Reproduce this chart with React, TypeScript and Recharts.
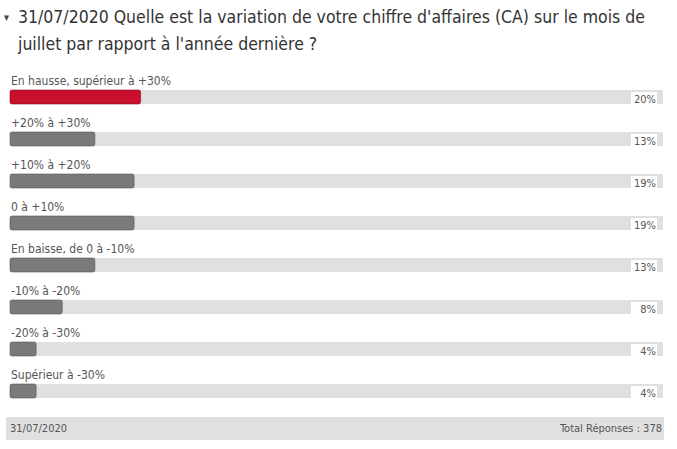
import { BarChart, Bar, XAxis, YAxis, Cell, LabelList } from 'recharts'

const categories = [
  'En hausse, supérieur à +30%',
  '+20% à +30%',
  '+10% à +20%',
  '0 à +10%',
  'En baisse, de 0 à -10%',
  '-10% à -20%',
  '-20% à -30%',
  'Supérieur à -30%',
]
const percents = [20, 13, 19, 19, 13, 8, 4, 4]

const TITLE = "31/07/2020 Quelle est la variation de votre chiffre d'affaires (CA) sur le mois de juillet par rapport à l'année dernière ?"
const FOOTER_DATE = '31/07/2020'
const FOOTER_TOTAL = 'Total Réponses : 378'

const FONT = '"DejaVu Sans Condensed", "Liberation Sans Narrow", "Roboto", sans-serif'

const data = categories.map((c, i) => ({ name: c, value: percents[i] }))

// nom de la réponse au-dessus de la barre
const NameLabel = (props: any) => {
  const { x, y, value } = props
  return (
    <text x={x + 1} y={y - 5} fontSize={12} fill="#555" fontFamily={FONT}>
      {value}
    </text>
  )
}

// pourcentage à droite, sur fond blanc
const PctLabel = (props: any) => {
  const { y, height, value } = props
  const right = 656
  return (
    <g>
      <rect x={right - 25} y={y + 2} width={26} height={height} fill="#fff" />
      <text x={right} y={y + height - 1} fontSize={11} fill="#555" textAnchor="end" fontFamily={FONT}>
        {value}%
      </text>
    </g>
  )
}

export default function App() {
  return (
    <div style={{ position: 'absolute', left: 0, top: 0, width: 677, height: 449, background: '#fff', fontFamily: FONT }}>
      <div style={{ position: 'absolute', left: 4, top: 4, width: 665, fontSize: 17.5, lineHeight: '27px', color: '#333' }}>
        <span style={{ position: 'absolute', left: 0, top: 0, fontSize: 11, color: '#444' }}>▾</span>
        <div style={{ paddingLeft: 14 }}>{TITLE}</div>
      </div>
      <div style={{ position: 'absolute', left: 0, top: 62 }}>
        <BarChart
          width={677}
          height={350}
          data={data}
          layout="vertical"
          margin={{ top: 14, right: 14, left: 10, bottom: 0 }}
          barSize={14}
        >
          <XAxis type="number" domain={[0, 100]} hide />
          <YAxis type="category" dataKey="name" hide />
          <Bar dataKey="value" background={{ fill: '#e0e0e0', stroke: 'none' }} isAnimationActive={false} radius={2}>
            {data.map((d, i) => (
              <Cell
                key={`cell-${i}`}
                fill={i === 0 ? '#c8102e' : '#7a7a7a'}
                stroke={i === 0 ? '#8a0a20' : '#555'}
                strokeWidth={0.6}
              />
            ))}
            <LabelList dataKey="name" content={NameLabel} />
            <LabelList dataKey="value" content={PctLabel} />
          </Bar>
        </BarChart>
      </div>
      <div
        style={{
          position: 'absolute',
          left: 6,
          top: 417,
          width: 658,
          height: 23,
          background: '#e0e0e0',
          fontSize: 11,
          color: '#555',
          display: 'flex',
          justifyContent: 'space-between',
          alignItems: 'center',
          padding: '0 2px 0 4px',
          boxSizing: 'border-box',
        }}
      >
        <span>{FOOTER_DATE}</span>
        <span>{FOOTER_TOTAL}</span>
      </div>
    </div>
  )
}
